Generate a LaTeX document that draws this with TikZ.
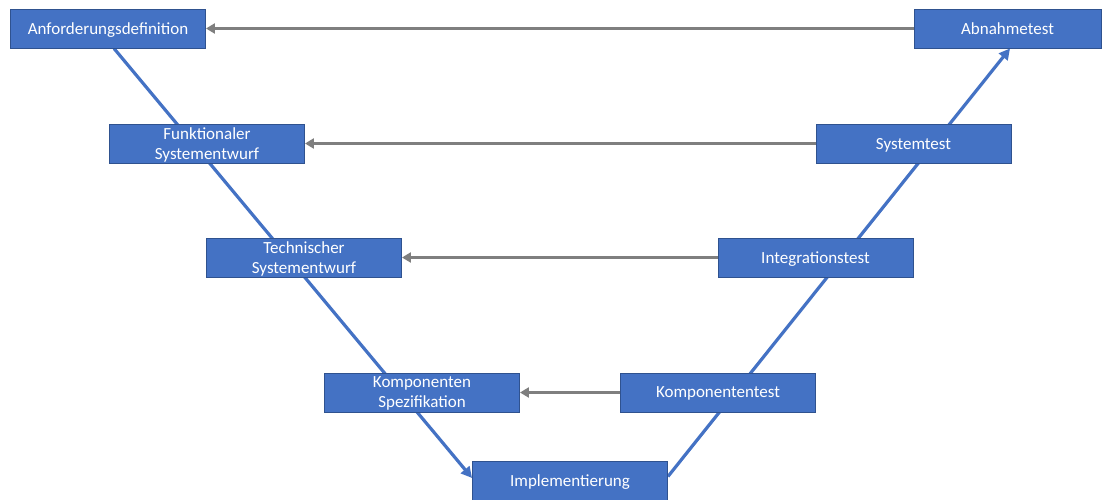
\documentclass[tikz,border=0pt]{standalone}
\usepackage{fontspec}
\setmainfont{Carlito}
\usetikzlibrary{arrows.meta,backgrounds}
\definecolor{boxblue}{HTML}{4472C4}
\definecolor{boxedge}{HTML}{2F528F}
\definecolor{linkgrey}{HTML}{7F7F7F}
\tikzset{
  phase/.style={draw=boxedge, line width=0.9pt, fill=boxblue, text=white,
    minimum width=195pt, minimum height=39pt, inner sep=1pt, align=center,
    text depth=0pt, font=\fontsize{17}{20}\selectfont},
  vline/.style={draw=boxblue, line width=3.2pt, -{Triangle[length=11pt,width=11pt]}},
  tline/.style={draw=linkgrey, line width=3pt, -{Triangle[length=9pt,width=10pt]}}
}
\begin{document}
\begin{tikzpicture}[x=1pt,y=-1pt]
\useasboundingbox (0,0) rectangle (1102,500);
% left branch
\node[phase] (anf) at (108,28.5) {Anforderungsdefinition};
\node[phase] (fse) at (207,143.5) {Funktionaler\\Systementwurf};
\node[phase] (tse) at (304,257.5) {Technischer\\Systementwurf};
\node[phase] (ksp) at (422,392.5) {Komponenten\\Spezifikation};
% bottom
\node[phase] (imp) at (570,480.5) {Implementierung};
% right branch
\node[phase, minimum width=187pt] (abn) at (1007.5,28.5) {Abnahmetest};
\node[phase] (sys) at (913.5,143.5) {Systemtest};
\node[phase] (int) at (815.5,257.5) {Integrationstest};
\node[phase] (kte) at (718,392.5) {Komponententest};
\begin{scope}[on background layer]
  \draw[vline] ([xshift=6pt]anf.south) -- ([yshift=2.5pt]imp.west);
  \draw[vline] ([yshift=4pt]imp.east) -- ([xshift=2.5pt]abn.south);
\end{scope}
% test levels point back to their specification
\draw[tline] (abn.west) -- (anf.east);
\draw[tline] (sys.west) -- (fse.east);
\draw[tline] (int.west) -- (tse.east);
\draw[tline] (kte.west) -- (ksp.east);
\end{tikzpicture}
\end{document}
